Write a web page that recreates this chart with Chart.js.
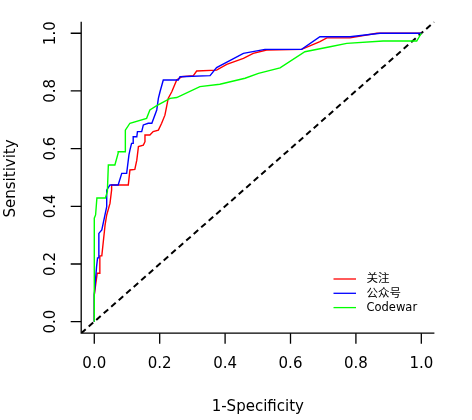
<!DOCTYPE html>
<html>
<head>
<meta charset="utf-8">
<script src="https://cdn.jsdelivr.net/npm/chart.js@4.4.1/dist/chart.umd.min.js"></script>
<style>
html,body{margin:0;padding:0;background:#fff;}
#wrap{width:472px;height:420px;position:relative;}
</style>
</head>
<body>
<div id="wrap"><canvas id="c" width="472" height="420"></canvas></div>
<script>
// ---- data ----
const seriesNames = ["关注", "公众号", "Codewar"];
const seriesColors = ["#FF0000", "#0000FF", "#00FF00"];

const redX = [0,0,0.009,0.015,0.017,0.023,0.033,0.038,0.048,0.053,0.053,0.104,0.109,0.124,0.13,0.135,0.15,0.155,0.155,0.17,0.18,0.196,0.206,0.216,0.221,0.226,0.237,0.252,0.267,0.303,0.313,0.374,0.405,0.456,0.486,0.527,0.634,0.69,0.711,0.782,0.864,1];
const redY = [0,0.093,0.168,0.168,0.228,0.228,0.335,0.37,0.41,0.457,0.474,0.474,0.526,0.528,0.56,0.607,0.612,0.624,0.647,0.647,0.659,0.664,0.688,0.716,0.745,0.774,0.797,0.838,0.849,0.853,0.869,0.872,0.892,0.913,0.93,0.942,0.944,0.971,0.984,0.984,1,1];

const blueX = [0,0,0.007,0.01,0.014,0.014,0.023,0.038,0.038,0.048,0.073,0.084,0.099,0.106,0.109,0.114,0.119,0.119,0.13,0.132,0.145,0.15,0.165,0.176,0.191,0.196,0.201,0.211,0.257,0.262,0.354,0.374,0.456,0.522,0.634,0.69,0.782,0.874,1];
const blueY = [0,0.093,0.191,0.221,0.221,0.306,0.318,0.399,0.456,0.474,0.474,0.514,0.514,0.578,0.595,0.618,0.618,0.641,0.641,0.659,0.659,0.682,0.688,0.688,0.734,0.774,0.797,0.838,0.838,0.849,0.853,0.881,0.93,0.944,0.944,0.988,0.988,1,1];

const greenX = [0,0,0.004,0.008,0.034,0.04,0.043,0.063,0.073,0.073,0.094,0.095,0.109,0.16,0.17,0.191,0.232,0.252,0.323,0.384,0.461,0.502,0.568,0.644,0.721,0.772,0.883,0.986,1];
const greenY = [0,0.359,0.37,0.429,0.429,0.451,0.543,0.543,0.584,0.589,0.589,0.664,0.688,0.705,0.734,0.749,0.774,0.777,0.815,0.823,0.844,0.861,0.88,0.936,0.953,0.965,0.973,0.973,1];

const diagonal = [-0.04, 1.04];

const tickValues = [0, 0.2, 0.4, 0.6, 0.8, 1.0];
const tickLabels = ["0.0", "0.2", "0.4", "0.6", "0.8", "1.0"];
const xTitle = "1-Specificity";
const yTitle = "Sensitivity";

// ---- build ----
function pts(xs, ys){ return xs.map((x,i)=>({x:x, y:ys[i]})); }

const FONT = '"DejaVu Sans", "Noto Sans CJK SC", sans-serif';

const axesPlugin = {
  id: 'rAxes',
  afterDraw(chart){
    const ctx = chart.ctx;
    const xs = chart.scales.x, ys = chart.scales.y;
    const a = chart.chartArea;
    ctx.save();
    ctx.strokeStyle = '#000';
    ctx.lineWidth = 1.3;
    // L-shaped box
    ctx.beginPath();
    ctx.moveTo(a.left, a.top);
    ctx.lineTo(a.left, a.bottom);
    ctx.lineTo(a.right, a.bottom);
    ctx.stroke();
    // ticks
    ctx.beginPath();
    tickValues.forEach(v=>{
      const px = xs.getPixelForValue(v);
      ctx.moveTo(px, a.bottom); ctx.lineTo(px, a.bottom + 10.5);
      const py = ys.getPixelForValue(v);
      ctx.moveTo(a.left, py); ctx.lineTo(a.left - 10.5, py);
    });
    ctx.stroke();
    // tick labels
    ctx.fillStyle = '#000';
    ctx.font = '15px ' + FONT;
    ctx.textAlign = 'center';
    ctx.textBaseline = 'middle';
    tickValues.forEach((v,i)=>{
      ctx.fillText(tickLabels[i], xs.getPixelForValue(v), 364.5);
    });
    tickValues.forEach((v,i)=>{
      ctx.save();
      ctx.translate(51.5, ys.getPixelForValue(v));
      ctx.rotate(-Math.PI/2);
      ctx.fillText(tickLabels[i], 0, 0);
      ctx.restore();
    });
    // titles
    ctx.fillText(xTitle, (a.left + a.right)/2, 407.5);
    ctx.save();
    ctx.translate(11, (a.top + a.bottom)/2 + 1);
    ctx.rotate(-Math.PI/2);
    ctx.fillText(yTitle, 0, 0);
    ctx.restore();
    // legend
    ctx.font = '11.5px ' + FONT;
    ctx.textAlign = 'left';
    ctx.lineWidth = 1.3;
    seriesNames.forEach((n,i)=>{
      const y = 279 + i*14.3;
      ctx.strokeStyle = seriesColors[i];
      ctx.beginPath(); ctx.moveTo(333.5, y); ctx.lineTo(356, y); ctx.stroke();
      ctx.fillStyle = '#000';
      ctx.fillText(n, 366.5, y + 0.5);
    });
    ctx.restore();
  }
};

new Chart(document.getElementById('c'), {
  type: 'line',
  data: {
    datasets: [
      { label: seriesNames[0], data: pts(redX, redY), borderColor: seriesColors[0], borderWidth: 1.4, order: 2 },
      { label: seriesNames[1], data: pts(blueX, blueY), borderColor: seriesColors[1], borderWidth: 1.4, order: 1 },
      { label: seriesNames[2], data: pts(greenX, greenY), borderColor: seriesColors[2], borderWidth: 1.4, order: 0 },
      { label: 'ref', data: pts(diagonal, diagonal), borderColor: '#000', borderWidth: 2, borderDash: [6,4], order: 3 }
    ]
  },
  options: {
    responsive: false,
    animation: false,
    devicePixelRatio: 1,
    layout: { padding: { left: 81.2, right: 37.6, top: 21.7, bottom: 86.8 } },
    elements: { point: { radius: 0 }, line: { tension: 0, fill: false } },
    plugins: { legend: { display: false }, tooltip: { enabled: false } },
    scales: {
      x: { type: 'linear', min: -0.04, max: 1.04, display: false },
      y: { type: 'linear', min: -0.04, max: 1.04, display: false }
    }
  },
  plugins: [axesPlugin]
});
</script>
</body>
</html>
